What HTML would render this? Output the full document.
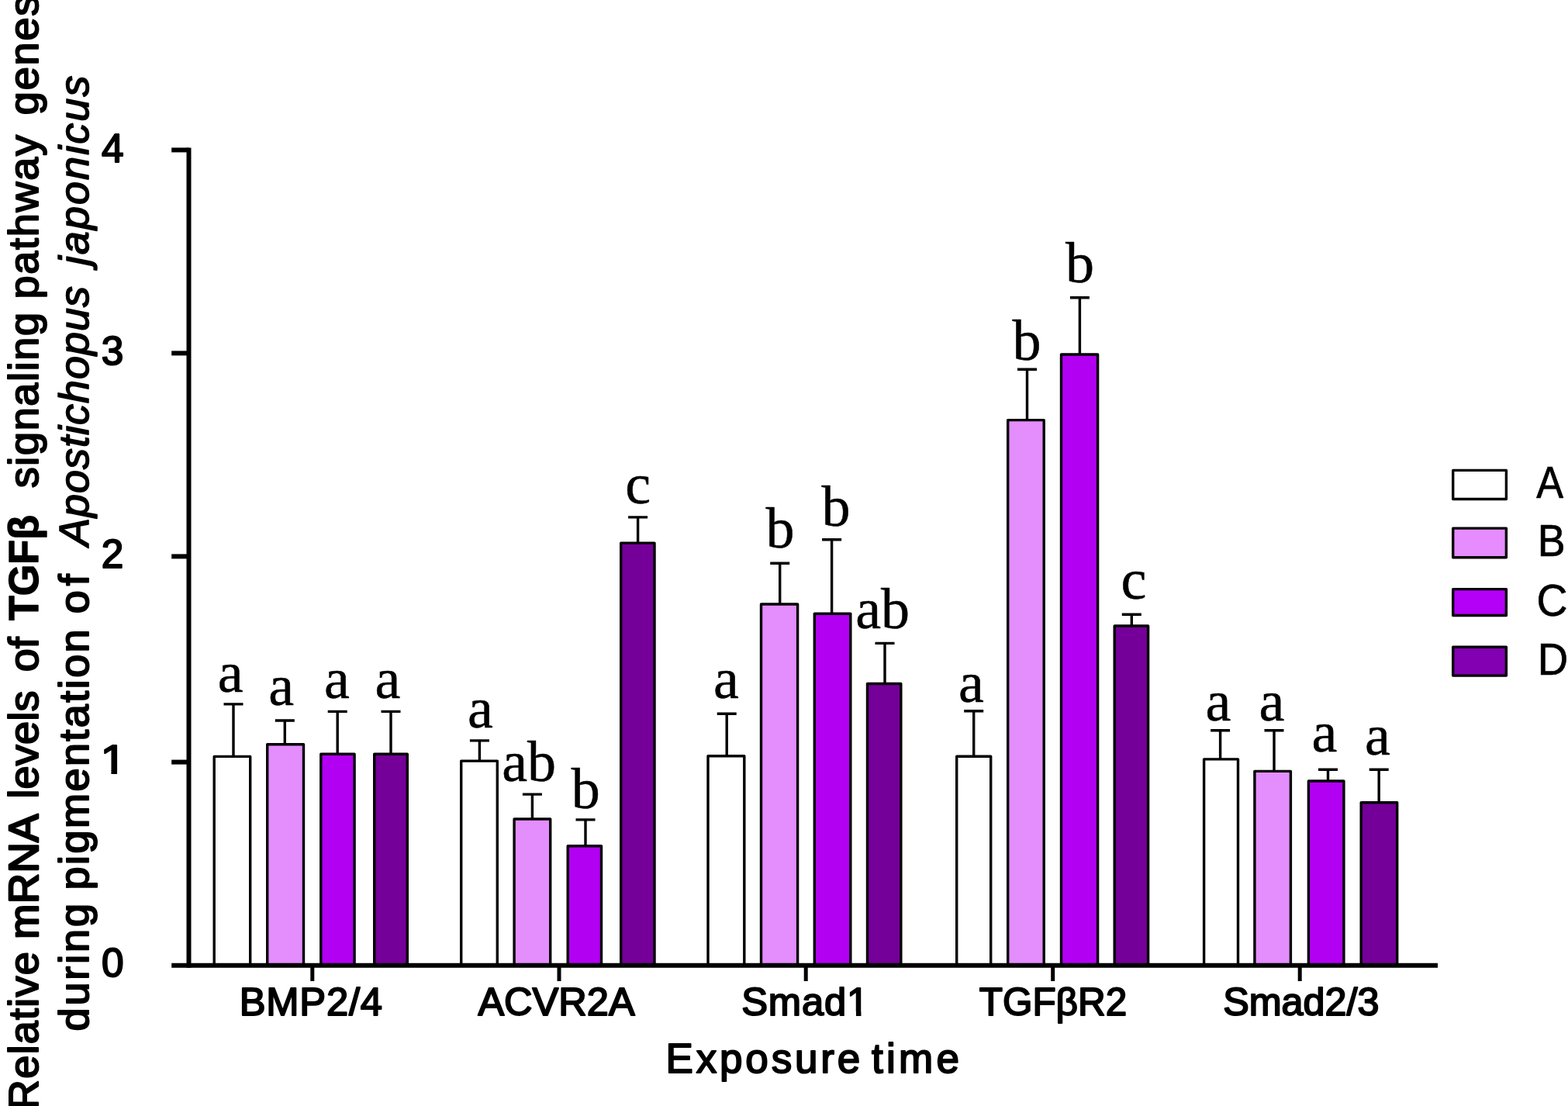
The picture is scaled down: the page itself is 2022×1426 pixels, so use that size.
<!DOCTYPE html>
<html lang="en"><head><meta charset="utf-8"><title>Relative mRNA levels of TGFβ signaling pathway genes</title>
<style>
html,body{margin:0;padding:0;background:#fff;}
body{width:2022px;height:1426px;overflow:hidden;}
svg{display:block;}
text{fill:#000;stroke:#000;stroke-linejoin:round;white-space:pre;}
.sans{font-family:"Liberation Sans",Arial,Helvetica,sans-serif;}
.serif{font-family:"Liberation Serif","Times New Roman",Times,serif;}
.b{font-weight:bold;}
.i{font-style:italic;}
</style></head><body>
<svg width="2022" height="1426" viewBox="0 0 2022 1426">
<defs><filter id="soft" x="-2%" y="-2%" width="104%" height="104%" color-interpolation-filters="sRGB"><feGaussianBlur stdDeviation="0.6"/></filter></defs>
<rect x="-20" y="-20" width="2062" height="1466" fill="#ffffff"/>
<g filter="url(#soft)">
<rect x="-20" y="-20" width="2062" height="1466" fill="#ffffff"/>
<g stroke="#000" stroke-width="3.4" fill="none">
<path d="M288.5 907.9H313.5M301.0 907.9V975.7"/>
<path d="M354.8 929.0H379.8M367.3 929.0V960.0"/>
<path d="M422.7 917.4H447.7M435.2 917.4V972.6"/>
<path d="M491.5 917.4H516.5M504.0 917.4V972.6"/>
<path d="M605.9 954.9H630.9M618.4 954.9V981.4"/>
<path d="M673.9 1024.1H698.9M686.4 1024.1V1056.3"/>
<path d="M742.5 1056.9H767.5M755.0 1056.9V1091.0"/>
<path d="M810.1 666.9H835.1M822.6 666.9V700.4"/>
<path d="M924.7 920.2H949.7M937.2 920.2V975.1"/>
<path d="M993.2 726.3H1018.2M1005.7 726.3V779.3"/>
<path d="M1060.1 695.7H1085.1M1072.6 695.7V791.5"/>
<path d="M1128.5 829.4H1153.5M1141.0 829.4V881.8"/>
<path d="M1243.2 916.7H1268.2M1255.7 916.7V975.6"/>
<path d="M1312.0 476.3H1337.0M1324.5 476.3V541.9"/>
<path d="M1379.9 383.7H1404.9M1392.4 383.7V457.3"/>
<path d="M1446.8 792.2H1471.8M1459.3 792.2V807.3"/>
<path d="M1561.1 941.7H1586.1M1573.6 941.7V979.2"/>
<path d="M1630.5 941.7H1655.5M1643.0 941.7V994.7"/>
<path d="M1700.0 992.2H1725.0M1712.5 992.2V1007.3"/>
<path d="M1765.7 992.2H1790.7M1778.2 992.2V1035.1"/>
</g>
<g stroke="#000" stroke-width="3.4" stroke-linejoin="round">
<rect x="276.2" y="975.4" width="46.5" height="269.3" fill="#ffffff"/>
<rect x="344.7" y="959.7" width="46.8" height="285.0" fill="#e48dfd"/>
<rect x="413.8" y="972.3" width="43.3" height="272.4" fill="#b200f2"/>
<rect x="482.7" y="972.3" width="42.6" height="272.4" fill="#750099"/>
<rect x="594.7" y="981.1" width="46.6" height="263.6" fill="#ffffff"/>
<rect x="663.1" y="1056.0" width="46.6" height="188.7" fill="#e48dfd"/>
<rect x="732.2" y="1090.7" width="43.3" height="154.0" fill="#b200f2"/>
<rect x="800.7" y="700.1" width="43.3" height="544.6" fill="#750099"/>
<rect x="913.0" y="974.8" width="46.8" height="269.9" fill="#ffffff"/>
<rect x="981.5" y="779.0" width="47.1" height="465.7" fill="#e48dfd"/>
<rect x="1050.3" y="791.2" width="46.5" height="453.5" fill="#b200f2"/>
<rect x="1118.5" y="881.5" width="43.3" height="363.2" fill="#750099"/>
<rect x="1233.7" y="975.3" width="44.0" height="269.4" fill="#ffffff"/>
<rect x="1299.7" y="541.6" width="46.5" height="703.1" fill="#e48dfd"/>
<rect x="1368.5" y="457.0" width="47.1" height="787.7" fill="#b200f2"/>
<rect x="1437.2" y="807.0" width="43.4" height="437.7" fill="#750099"/>
<rect x="1552.6" y="978.9" width="43.9" height="265.8" fill="#ffffff"/>
<rect x="1617.9" y="994.4" width="46.5" height="250.3" fill="#e48dfd"/>
<rect x="1687.4" y="1007.0" width="45.5" height="237.7" fill="#b200f2"/>
<rect x="1755.2" y="1034.8" width="46.5" height="209.9" fill="#750099"/>
</g>
<g stroke="#000" fill="none" stroke-width="6.0">
<path d="M243.5 190.4V1247.7"/>
<path d="M221.2 1244.7H1854.0"/>
<path d="M221.2 982.6H243.5"/>
<path d="M221.2 717.4H243.5"/>
<path d="M221.2 455.4H243.5"/>
<path d="M221.2 193.4H243.5"/>
<path d="M402.8 1244.7V1265.0" stroke-width="5"/>
<path d="M721.0 1244.7V1265.0" stroke-width="5"/>
<path d="M1039.2 1244.7V1265.0" stroke-width="5"/>
<path d="M1357.7 1244.7V1265.0" stroke-width="5"/>
<path d="M1676.2 1244.7V1265.0" stroke-width="5"/>
</g>
<text class="sans" transform="translate(130.95 1259.00)" style="font-size:51.40px;" stroke-width="2.0">0</text>
<clipPath id="one1"><path d="M-10 -80H80V-4.97H18.73V2.00H12.18V-4.97H-10Z"/></clipPath>
<text class="sans" transform="translate(129.50 997.00) scale(1.150 1.000)" style="font-size:52.30px;" clip-path="url(#one1)" stroke-width="2.0">1</text>
<text class="sans" transform="translate(130.75 732.00)" style="font-size:51.40px;" stroke-width="2.0">2</text>
<text class="sans" transform="translate(130.68 469.90)" style="font-size:51.40px;" stroke-width="2.0">3</text>
<text class="sans" transform="translate(130.93 208.50)" style="font-size:51.40px;" stroke-width="2.0">4</text>
<text class="sans" transform="translate(308.65 1308.90)" style="font-size:50.70px;letter-spacing:0.80px;" stroke-width="2.0">BMP2/4</text>
<text class="sans" transform="translate(616.40 1308.90) scale(0.997 1.000)" style="font-size:50.70px;" stroke-width="2.0">ACVR2A</text>
<text class="sans" transform="translate(956.15 1308.90)" style="font-size:50.70px;letter-spacing:0.87px;" stroke-width="2.0">Smad1</text>
<path fill="#fff" d="M1093.05 1304.10H1103.92V1311.90H1093.05ZM1110.43 1304.10H1120.90V1311.90H1110.43Z"/>
<text class="sans" transform="translate(1262.70 1308.90) scale(0.976 1.000)" style="font-size:50.70px;" stroke-width="2.0">TGFβR2</text>
<text class="sans" transform="translate(1577.15 1308.90) scale(0.992 1.000)" style="font-size:50.70px;" stroke-width="2.0">Smad2/3</text>
<text class="sans" transform="translate(858.55 1383.30)" style="font-size:53.00px;letter-spacing:3.82px;" stroke-width="2.0">Exposure</text>
<text class="sans" transform="translate(1123.95 1383.30)" style="font-size:53.00px;letter-spacing:4.33px;" stroke-width="2.0">time</text>
<text class="serif" transform="translate(280.68 892.00)" style="font-size:74.00px;" stroke-width="0.5">a</text>
<text class="serif" transform="translate(346.28 909.40)" style="font-size:74.00px;" stroke-width="0.5">a</text>
<text class="serif" transform="translate(418.08 899.90)" style="font-size:74.00px;" stroke-width="0.5">a</text>
<text class="serif" transform="translate(483.58 899.90)" style="font-size:74.00px;" stroke-width="0.5">a</text>
<text class="serif" transform="translate(602.88 937.80)" style="font-size:74.00px;" stroke-width="0.5">a</text>
<text class="serif" transform="translate(647.25 1007.40)" style="font-size:74.00px;" stroke-width="0.5">ab</text>
<text class="serif" transform="translate(736.78 1042.30)" style="font-size:74.00px;" stroke-width="0.5">b</text>
<text class="serif" transform="translate(806.28 648.80)" style="font-size:74.00px;" stroke-width="0.5">c</text>
<text class="serif" transform="translate(920.08 899.80)" style="font-size:74.00px;" stroke-width="0.5">a</text>
<text class="serif" transform="translate(987.48 706.30)" style="font-size:74.00px;" stroke-width="0.5">b</text>
<text class="serif" transform="translate(1059.38 678.40)" style="font-size:74.00px;" stroke-width="0.5">b</text>
<text class="serif" transform="translate(1103.25 810.40)" style="font-size:74.00px;" stroke-width="0.5">ab</text>
<text class="serif" transform="translate(1235.88 905.10)" style="font-size:74.00px;" stroke-width="0.5">a</text>
<text class="serif" transform="translate(1305.38 464.20)" style="font-size:74.00px;" stroke-width="0.5">b</text>
<text class="serif" transform="translate(1373.88 364.10)" style="font-size:74.00px;" stroke-width="0.5">b</text>
<text class="serif" transform="translate(1445.52 772.40)" style="font-size:74.00px;" stroke-width="0.5">c</text>
<text class="serif" transform="translate(1554.43 929.30)" style="font-size:74.00px;" stroke-width="0.5">a</text>
<text class="serif" transform="translate(1623.58 929.30)" style="font-size:74.00px;" stroke-width="0.5">a</text>
<text class="serif" transform="translate(1691.42 969.40)" style="font-size:74.00px;" stroke-width="0.5">a</text>
<text class="serif" transform="translate(1760.08 972.50)" style="font-size:74.00px;" stroke-width="0.5">a</text>
<g stroke="#000" stroke-width="3.4" stroke-linejoin="round">
<rect x="1873.7" y="606.4" width="68.7" height="37.1" fill="#ffffff"/>
<rect x="1873.7" y="681.1" width="68.7" height="37.6" fill="#e68cfe"/>
<rect x="1873.7" y="759.6" width="68.7" height="33.9" fill="#b400f6"/>
<rect x="1873.7" y="834.3" width="68.7" height="36.8" fill="#8200b2"/>
</g>
<text class="sans" transform="translate(1981.15 641.60) scale(0.916 1.000)" style="font-size:57.00px;" stroke-width="0.7">A</text>
<text class="sans" transform="translate(1982.70 716.80) scale(0.943 1.000)" style="font-size:57.00px;" stroke-width="0.7">B</text>
<text class="sans" transform="translate(1981.50 794.20) scale(0.971 1.000)" style="font-size:57.00px;" stroke-width="0.7">C</text>
<text class="sans" transform="translate(1982.70 869.90) scale(0.958 1.000)" style="font-size:57.00px;" stroke-width="0.7">D</text>
<text class="sans" transform="translate(48.80 1431.00) rotate(-90)" style="font-size:54.00px;letter-spacing:1.25px;" stroke-width="2.0">Relative</text>
<text class="sans" transform="translate(48.80 1210.75) rotate(-90)" style="font-size:54.00px;letter-spacing:0.70px;" stroke-width="2.7">mRNA</text>
<text class="sans" transform="translate(48.80 1029.70) rotate(-90)" style="font-size:54.00px;letter-spacing:0.25px;" stroke-width="2.0">levels</text>
<text class="sans" transform="translate(48.80 866.25) rotate(-90)" style="font-size:54.00px;" stroke-width="2.0">of</text>
<text class="sans b" transform="translate(48.80 800.10) rotate(-90) scale(0.966 1.000)" style="font-size:54.00px;" stroke-width="1.4">TGFβ</text>
<text class="sans" transform="translate(48.80 629.30) rotate(-90)" style="font-size:54.00px;letter-spacing:1.64px;" stroke-width="2.0">signaling</text>
<text class="sans" transform="translate(48.80 385.50) rotate(-90)" style="font-size:54.00px;letter-spacing:1.72px;" stroke-width="2.0">pathway</text>
<text class="sans" transform="translate(48.80 148.15) rotate(-90)" style="font-size:54.00px;letter-spacing:1.83px;" stroke-width="2.0">genes</text>
<text class="sans" transform="translate(113.70 1329.55) rotate(-90)" style="font-size:54.00px;letter-spacing:2.90px;" stroke-width="2.0">during</text>
<text class="sans" transform="translate(113.70 1147.40) rotate(-90)" style="font-size:54.00px;letter-spacing:2.44px;" stroke-width="2.0">pigmentation</text>
<text class="sans" transform="translate(113.70 791.35) rotate(-90)" style="font-size:54.00px;letter-spacing:6.10px;" stroke-width="2.0">of</text>
<text class="sans i" transform="translate(113.70 703.90) rotate(-90)" style="font-size:54.00px;letter-spacing:0.97px;" stroke-width="1.6">Apostichopus</text>
<text class="sans i" transform="translate(113.70 342.25) rotate(-90)" style="font-size:54.00px;letter-spacing:2.07px;" stroke-width="1.6">japonicus</text>
</g>
</svg>
</body></html>
